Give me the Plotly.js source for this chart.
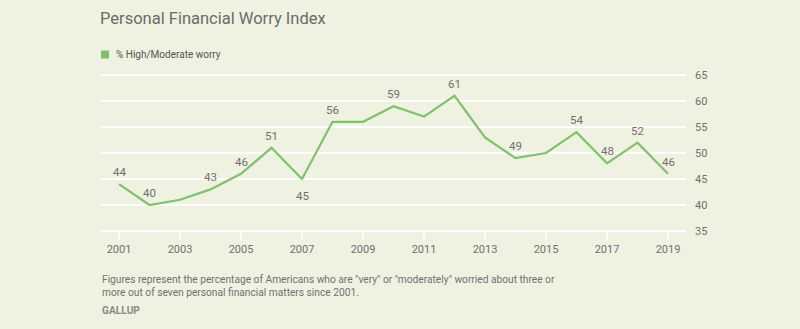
<!DOCTYPE html>
<html>
<head>
<meta charset="utf-8">
<script src="https://cdn.plot.ly/plotly-3.0.1.min.js"></script>
<style>
html,body{margin:0;padding:0;background:#eff2e0;}
#chart{width:800px;height:329px;}
</style>
</head>
<body>
<div id="chart"></div>
<script>
const years = [2001,2002,2003,2004,2005,2006,2007,2008,2009,2010,2011,2012,2013,2014,2015,2016,2017,2018,2019];
const worry = [44,40,41,43,46,51,45,56,56,59,57,61,53,49,50,54,48,52,46];
const labelShown = [1,1,0,1,1,1,1,1,0,1,0,1,0,1,0,1,1,1,1];
const labelBelow = [0,0,0,0,0,0,1,0,0,0,0,0,0,0,0,0,0,0,0];
const xTicks = [2001,2003,2005,2007,2009,2011,2013,2015,2017,2019];
const yTicks = [35,40,45,50,55,60,65];
const seriesName = "% High/Moderate worry";
const chartTitle = "Personal Financial Worry Index";
const note1 = "Figures represent the percentage of Americans who are \"very\" or \"moderately\" worried about three or";
const note2 = "more out of seven personal financial matters since 2001.";
const source = "GALLUP";

const green = "#7cc36a";
const bg = "#eff2e0";
const grey = "#707070";
const font = "Roboto, 'Open Sans', sans-serif";

// plot geometry (pixels) used to convert layout positions to paper units
const W = 800, H = 329, L = 101, R = 114, T = 74, B = 97;
const pw = W - L - R, ph = H - T - B;
const px = x => (x - L) / pw;          // pixel x -> paper x
const py = y => (H - B - y) / ph;      // pixel y -> paper y

const traces = [
  {
    x: years, y: worry, type: "scatter", mode: "lines",
    line: {color: green, width: 2.2},
    name: seriesName, showlegend: false, hoverinfo: "skip"
  }
];

const valueLabels = years.map((yr, i) => labelShown[i] ? {
  x: yr, y: worry[i], xref: "x", yref: "y", text: String(worry[i]),
  showarrow: false, xanchor: "center", yanchor: "middle",
  yshift: labelBelow[i] ? -17 : 12,
  font: {family: font, size: 11.5, color: grey}
} : null).filter(Boolean);

const layout = {
  width: W, height: H,
  paper_bgcolor: bg, plot_bgcolor: bg,
  margin: {l: L, r: R, t: T, b: B},
  font: {family: font, color: grey},
  title: {text: chartTitle, x: 100/W, xanchor: "left", xref: "container",
          y: 1 - 18/H, yanchor: "middle", yref: "container",
          font: {family: font, size: 16.5, color: "#6b6b6b"}},
  showlegend: false,
  xaxis: {range: [2000.41, 2019.59], tickvals: xTicks, ticktext: xTicks.map(String),
          showgrid: false, zeroline: false, showline: false,
          ticks: "outside", ticklen: 7, tickwidth: 2, tickcolor: "#ffffff",
          tickfont: {family: font, size: 11, color: grey}, fixedrange: true},
  yaxis: {range: [34.8, 65.2], side: "right", tickvals: yTicks,
          showgrid: true, gridcolor: "#ffffff", gridwidth: 2.2, zeroline: false, showline: false,
          ticks: "", ticklabelstandoff: 8,
          tickfont: {family: font, size: 11, color: grey}, fixedrange: true},
  shapes: [
    {type: "rect", xref: "paper", yref: "paper", x0: px(101), x1: px(109), y0: py(58.5), y1: py(50.5),
     fillcolor: green, line: {width: 0}}
  ],
  annotations: valueLabels.concat([
    {text: seriesName, xref: "paper", x: px(114), xanchor: "left", yref: "paper", y: py(54.5), yanchor: "middle",
     showarrow: false, font: {family: font, size: 10, color: "#555555"}},
    {text: note1, xref: "paper", x: px(100), xanchor: "left", yref: "paper", y: py(279), yanchor: "middle",
     showarrow: false, font: {family: font, size: 10.2, color: grey}},
    {text: note2, xref: "paper", x: px(100), xanchor: "left", yref: "paper", y: py(292), yanchor: "middle",
     showarrow: false, font: {family: font, size: 10.2, color: grey}},
    {text: "<b>" + source + "</b>", xref: "paper", x: px(100), xanchor: "left", yref: "paper", y: py(310), yanchor: "middle",
     showarrow: false, font: {family: font, size: 10.2, color: "#8a8a8a"}}
  ])
};

Plotly.newPlot("chart", traces, layout, {displayModeBar: false, staticPlot: true});
</script>
</body>
</html>
